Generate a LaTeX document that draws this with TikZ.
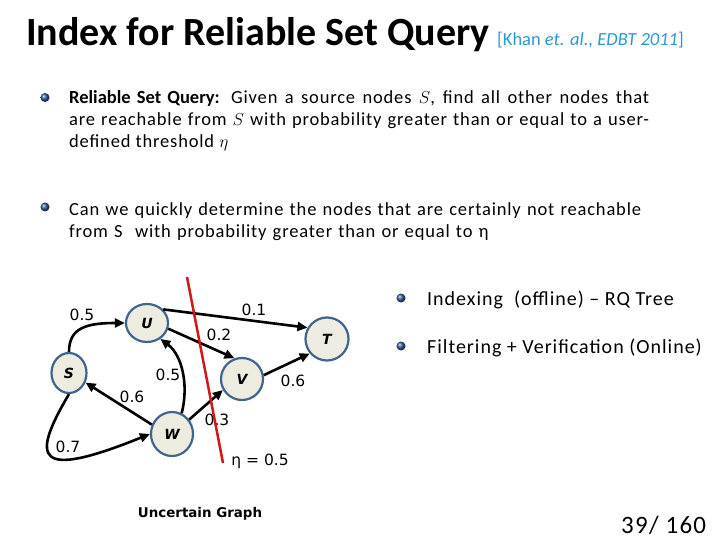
\documentclass[tikz,border=0pt]{standalone}
\usepackage{fontspec}
\setmainfont{Carlito}
\newfontfamily\dvs{DejaVu Sans}
\newfontfamily\wide[LetterSpace=4.5]{Carlito}
\newfontfamily\wider[LetterSpace=5]{Carlito}
\usetikzlibrary{shapes.geometric,arrows.meta}
\definecolor{nodeborder}{HTML}{41648C}
\definecolor{nodefill}{HTML}{EEECE1}
\definecolor{citeblue}{HTML}{2A9AD0}
\definecolor{cutred}{HTML}{D01818}
\definecolor{bulletblue}{HTML}{2F5597}
\begin{document}
\begin{tikzpicture}[x=1pt,y=-1pt,
  gnode/.style={ellipse, draw=nodeborder, fill=nodefill, line width=2.2pt, inner sep=0pt,
    font=\dvs\bfseries\itshape\fontsize{14}{14}\selectfont},
  edge/.style={line width=2.6pt, -{Triangle[length=10pt,width=9pt]}},
  elabel/.style={font=\dvs\fontsize{15.5}{16}\selectfont, inner sep=0pt},
  bul/.style={circle, inner sep=0pt, minimum size=9pt, shade, ball color=bulletblue},
  txt/.style={anchor=base west, inner sep=0pt},
]
\fill[white] (0,0) rectangle (720,540);
\useasboundingbox (0,0) rectangle (720,540);

% title
\node[txt, font=\bfseries\fontsize{40}{40}\selectfont] (title) at (26,46) {Index for Reliable Set Query};
\node[txt, font=\fontsize{18.5}{18}\selectfont, text=citeblue] (cite) at (497,46) {[Khan \textit{et. al., EDBT 2011}]};

% bullets
\node[bul] (bu1) at (45,97.5) {};
\node[bul] (bu2) at (45,207) {};
\node[bul] (bu3) at (401,298) {};
\node[bul] (bu4) at (401,346) {};

\node[txt, text width=580pt, align=justify, font=\wide\fontsize{18.5}{22}\selectfont] (b1) at (69,104)
  {{\rmfamily\bfseries Reliable Set Query:} Given a source nodes $S$, find all other nodes that\linebreak are reachable from $S$ with probability greater than or equal to a user-\linebreak defined threshold $\eta$};
\node[txt, text width=640pt, align=left, font=\wide\fontsize{18.5}{22}\selectfont] (b2) at (69,215.5)
  {Can we quickly determine the nodes that are certainly not reachable\\from S~ with probability greater than or equal to η};

\node[txt, font=\wider\fontsize{20}{24}\selectfont] (r1) at (427,305) {Indexing~ (offline) – RQ Tree};
\node[txt, font=\wider\fontsize{20}{24}\selectfont] (r2) at (427,353) {Filtering + Verification (Online)};

% graph nodes
\node[gnode, minimum width=35pt, minimum height=40pt] (S) at (69,373) {S};
\node[gnode, minimum width=42pt, minimum height=38pt] (U) at (147,323) {U};
\node[gnode, minimum width=42pt, minimum height=42pt] (V) at (242,379) {V};
\node[gnode, minimum width=42pt, minimum height=44pt] (W) at (172,434) {W};
\node[gnode, minimum width=43pt, minimum height=43pt] (T) at (327,339) {T};

% edges
\draw[edge] (S.north) .. controls (69,328) and (86,323) .. (U.west);
\draw[edge] (S.south) .. controls (30,460) and (36,480) .. (W.west);
\draw[edge] (W.155) -- (S.-30);
\draw[edge] (W.65) .. controls (189,385) and (182,355) .. (U.-50);
\draw[edge] (U.-15) -- (V.110);
\draw[edge] (U.40) -- (T.150);
\draw[edge] (W.40) -- (V.210);
\draw[edge] (V.10) -- (T.220);

% edge labels
\node[elabel] (l1) at (82,315) {0.5};
\node[elabel] (l2) at (68,447) {0.7};
\node[elabel] (l3) at (132,397) {0.6};
\node[elabel] (l4) at (168,375) {0.5};
\node[elabel] (l5) at (219,335) {0.2};
\node[elabel] (l6) at (254,310) {0.1};
\node[elabel] (l7) at (217,420) {0.3};
\node[elabel] (l8) at (293,381) {0.6};

% cut line
\coordinate (c1) at (187,277);
\coordinate (c2) at (223,463);
\draw[cutred, line width=2.5pt] (c1) -- (c2);
\node[elabel] (eta) at (260,461) {η = 0.5};

\node[font=\dvs\bfseries\fontsize{13.4}{14}\selectfont, inner sep=0pt] (cap) at (200,514) {Uncertain Graph};
\node[txt, font=\wider\fontsize{25}{26}\selectfont] (pg) at (621,533) {39/ 160};
\end{tikzpicture}
\end{document}
